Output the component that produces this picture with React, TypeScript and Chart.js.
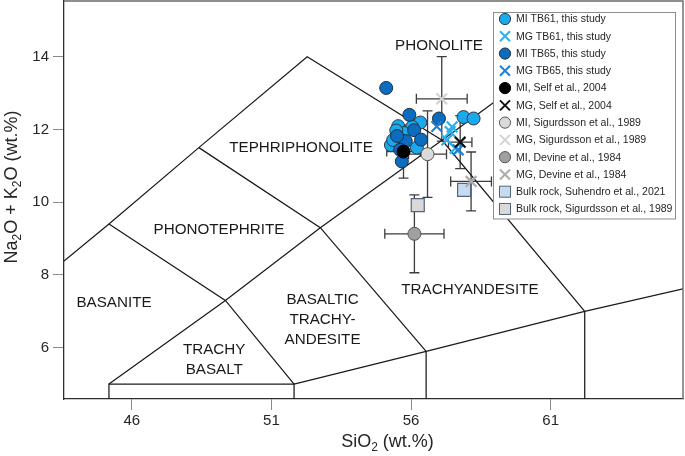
import React, { useEffect, useRef } from "react";
import { Chart, registerables } from "chart.js";

Chart.register(...registerables);

// ---------- axes ----------
const xTicks = [46, 51, 56, 61];
const yTicks = [6, 8, 10, 12, 14];
const xMin = 43.57;
const xMax = 65.74;
const yMin = 4.59;
const yMax = 15.53;

// ---------- TAS field boundaries (in axis units) ----------
const upperBoundary = [[43.57, 8.38], [45.18, 9.4], [48.4, 11.5], [52.28, 14.0], [57.11, 11.7], [62.22, 7.0]];
const tephriteBoundary = [[45.18, 9.4], [49.35, 7.3], [51.81, 5.0]];
const risingBoundary = [[45.18, 5.0], [49.35, 7.3], [52.75, 9.3], [57.11, 11.7], [60.32, 13.5]];
const fallingBoundary = [[48.4, 11.5], [52.75, 9.3], [56.54, 5.9]];
const basaltBox = [[45.18, 4.59], [45.18, 5.0], [51.81, 5.0], [51.81, 4.59]];
const lowerBoundary = [[51.81, 5.0], [56.54, 5.9], [62.22, 7.0], [65.74, 7.62]];
const andesiteEdge = [[56.54, 5.9], [56.54, 4.59]];
const daciteEdge = [[62.22, 7.0], [62.22, 4.59]];
const boundaries = [upperBoundary, tephriteBoundary, risingBoundary, fallingBoundary, basaltBox, lowerBoundary, andesiteEdge, daciteEdge];

// ---------- field names ----------
const fieldNames = ["PHONOLITE", "TEPHRIPHONOLITE", "PHONOTEPHRITE", "BASANITE", "TRACHY", "BASALT", "BASALTIC", "TRACHY-", "ANDESITE", "TRACHYANDESITE"];
const fieldX = [57.0, 52.06, 49.12, 45.36, 48.95, 48.95, 52.83, 52.83, 52.83, 58.11];
const fieldY = [14.29, 11.49, 9.25, 7.24, 5.94, 5.39, 7.31, 6.76, 6.23, 7.59];

// ---------- series ----------
const miTB61 = [[55.54, 12.09], [55.28, 11.57], [56.33, 12.19], [57.88, 12.34], [58.24, 12.3], [56.21, 11.5], [55.36, 11.71], [56.04, 12.07], [55.75, 11.9], [55.47, 11.97]];
const miTB65 = [[55.11, 13.14], [55.94, 12.4], [56.11, 11.98], [56.36, 11.72], [55.81, 11.68], [55.67, 11.12], [57.0, 12.3], [55.61, 11.44], [55.5, 11.82]];
const mgTB61 = [[57.4, 11.94], [57.28, 11.71], [57.58, 11.48], [57.47, 12.07]];
const mgTB65 = [[56.92, 12.08], [57.69, 11.44]];
const miSelf = [[55.73, 11.39]];
const miSelfErr = [[0.6, 0.73]];
const mgSelf = [[57.76, 11.65]];
const mgSelfErr = [[0.42, 0.73]];
const miSig = [[56.59, 11.32]];
const miSigErr = [[0.68, 1.19]];
const mgSig = [[57.1, 12.84]];
const mgSigErr = [[0.91, 1.16]];
const miDevine = [[56.12, 9.13]];
const miDevineErr = [[1.06, 1.07]];
const mgDevine = [[58.15, 10.57]];
const mgDevineErr = [[0.73, 0.81]];
const bulkSuhendro = [[57.9, 10.34]];
const bulkSig = [[56.24, 9.92]];

const FONT = "'Liberation Sans', Arial, Helvetica, sans-serif";
const TEXT = "#262626";

type Item = { label: string; shape: "circle" | "cross" | "square"; fill: string; stroke: string };
const legendItems: Item[] = [
  { label: "MI TB61, this study", shape: "circle", fill: "#1aa9ea", stroke: "#2b3a4a" },
  { label: "MG TB61, this study", shape: "cross", fill: "#2ab2ee", stroke: "#2ab2ee" },
  { label: "MI TB65, this study", shape: "circle", fill: "#0c6cc0", stroke: "#1f2f40" },
  { label: "MG TB65, this study", shape: "cross", fill: "#1f80d8", stroke: "#1f80d8" },
  { label: "MI, Self et al., 2004", shape: "circle", fill: "#000000", stroke: "#000000" },
  { label: "MG, Self et al., 2004", shape: "cross", fill: "#111111", stroke: "#111111" },
  { label: "MI, Sigurdsson et al., 1989", shape: "circle", fill: "#dadada", stroke: "#555555" },
  { label: "MG, Sigurdsson et al., 1989", shape: "cross", fill: "#d2d2d2", stroke: "#d2d2d2" },
  { label: "MI, Devine et al., 1984", shape: "circle", fill: "#a0a0a0", stroke: "#555555" },
  { label: "MG, Devine et al., 1984", shape: "cross", fill: "#ababab", stroke: "#ababab" },
  { label: "Bulk rock, Suhendro et al., 2021", shape: "square", fill: "#c6dbf0", stroke: "#54647a" },
  { label: "Bulk rock, Sigurdsson et al., 1989", shape: "square", fill: "#d9d9d9", stroke: "#54647a" },
];

const pts = (a: number[][]) => a.map(([x, y]) => ({ x, y }));

function drawMarker(ctx: CanvasRenderingContext2D, it: Item, cx: number, cy: number) {
  ctx.save();
  if (it.shape === "circle") {
    ctx.beginPath();
    ctx.arc(cx, cy, 5.6, 0, Math.PI * 2);
    ctx.fillStyle = it.fill;
    ctx.fill();
    ctx.lineWidth = 1;
    ctx.strokeStyle = it.stroke;
    ctx.stroke();
  } else if (it.shape === "cross") {
    ctx.beginPath();
    ctx.moveTo(cx - 5, cy - 5);
    ctx.lineTo(cx + 5, cy + 5);
    ctx.moveTo(cx + 5, cy - 5);
    ctx.lineTo(cx - 5, cy + 5);
    ctx.lineWidth = 2;
    ctx.strokeStyle = it.stroke;
    ctx.stroke();
  } else {
    ctx.fillStyle = it.fill;
    ctx.fillRect(cx - 5.5, cy - 5.5, 11, 11);
    ctx.lineWidth = 1;
    ctx.strokeStyle = it.stroke;
    ctx.strokeRect(cx - 5.5, cy - 5.5, 11, 11);
  }
  ctx.restore();
}

const errorBarPlugin = {
  id: "errorBars",
  beforeDatasetsDraw(chart: any) {
    const { ctx, scales } = chart;
    const xs = scales.x;
    const ys = scales.y;
    ctx.save();
    ctx.strokeStyle = "#3c3c3c";
    ctx.lineWidth = 1.3;
    chart.data.datasets.forEach((ds: any) => {
      if (!ds.errors) return;
      ds.data.forEach((p: any, i: number) => {
        const [ex, ey] = ds.errors[i];
        const px = xs.getPixelForValue(p.x);
        const py = ys.getPixelForValue(p.y);
        const x0 = xs.getPixelForValue(p.x - ex);
        const x1 = xs.getPixelForValue(p.x + ex);
        const y0 = ys.getPixelForValue(p.y + ey);
        const y1 = ys.getPixelForValue(p.y - ey);
        ctx.beginPath();
        ctx.moveTo(x0, py); ctx.lineTo(x1, py);
        ctx.moveTo(x0, py - 5); ctx.lineTo(x0, py + 5);
        ctx.moveTo(x1, py - 5); ctx.lineTo(x1, py + 5);
        ctx.moveTo(px, y0); ctx.lineTo(px, y1);
        ctx.moveTo(px - 5, y0); ctx.lineTo(px + 5, y0);
        ctx.moveTo(px - 5, y1); ctx.lineTo(px + 5, y1);
        ctx.stroke();
      });
    });
    ctx.restore();
  },
};

const decorPlugin = {
  id: "decor",
  beforeDatasetsDraw(chart: any) {
    const { ctx, scales } = chart;
    ctx.save();
    ctx.fillStyle = "#1a1a1a";
    ctx.font = `15.2px ${FONT}`;
    ctx.textAlign = "center";
    ctx.textBaseline = "middle";
    fieldNames.forEach((t, i) => {
      ctx.fillText(t, scales.x.getPixelForValue(fieldX[i]), scales.y.getPixelForValue(fieldY[i]));
    });
    ctx.restore();
  },
  afterDraw(chart: any) {
    const { ctx, chartArea: a } = chart;
    ctx.save();
    // frame top and right
    ctx.strokeStyle = "#6a6a6a";
    ctx.lineWidth = 1.4;
    ctx.beginPath();
    ctx.moveTo(a.left, a.top);
    ctx.lineTo(a.right, a.top);
    ctx.lineTo(a.right, a.bottom);
    ctx.stroke();

    // legend
    const lx = 493.5, ly = 12.5, lw = 182, lh = 206.5;
    ctx.fillStyle = "#ffffff";
    ctx.fillRect(lx, ly, lw, lh);
    ctx.strokeStyle = "#8c8c8c";
    ctx.lineWidth = 1;
    ctx.strokeRect(lx, ly, lw, lh);
    ctx.font = `10.5px ${FONT}`;
    ctx.textAlign = "left";
    ctx.textBaseline = "middle";
    legendItems.forEach((it, i) => {
      const cy = 19 + i * 17.27;
      drawMarker(ctx, it, 505, cy);
      ctx.fillStyle = TEXT;
      ctx.fillText(it.label, 516, cy + 0.5);
    });

    // x title: SiO2 (wt.%)
    const big = `18px ${FONT}`;
    const small = `12px ${FONT}`;
    const xParts: [string, boolean][] = [["SiO", false], ["2", true], [" (wt.%)", false]];
    const widthOf = (parts: [string, boolean][]) =>
      parts.reduce((s, [t, sub]) => { ctx.font = sub ? small : big; return s + ctx.measureText(t).width; }, 0);
    ctx.fillStyle = TEXT;
    ctx.textBaseline = "alphabetic";
    let w = widthOf(xParts);
    let x = 387.5 - w / 2;
    xParts.forEach(([t, sub]) => {
      ctx.font = sub ? small : big;
      ctx.fillText(t, x, sub ? 451 : 447);
      x += ctx.measureText(t).width;
    });

    // y title: Na2O + K2O (wt.%)
    const yParts: [string, boolean][] = [["Na", false], ["2", true], ["O + K", false], ["2", true], ["O (wt.%)", false]];
    w = widthOf(yParts);
    ctx.translate(17, 187);
    ctx.rotate(-Math.PI / 2);
    x = -w / 2;
    yParts.forEach(([t, sub]) => {
      ctx.font = sub ? small : big;
      ctx.fillText(t, x, sub ? 4 : 0);
      x += ctx.measureText(t).width;
    });
    ctx.restore();
  },
};

function scatterSet(label: string, data: number[][], style: any, order: number, errors?: number[][]) {
  return { label, data: pts(data), order, errors, showLine: false, ...style };
}

export default function App() {
  const ref = useRef<HTMLCanvasElement>(null);

  useEffect(() => {
    if (!ref.current) return;
    Chart.defaults.font.family = FONT;
    const circle = (fill: string, stroke: string) => ({
      pointStyle: "circle", pointRadius: 6.5, pointBackgroundColor: fill, pointBorderColor: stroke, pointBorderWidth: 1,
      backgroundColor: fill, borderColor: stroke,
    });
    const cross = (color: string) => ({
      pointStyle: "crossRot", pointRadius: 7.5, pointBorderColor: color, pointBorderWidth: 2.2, borderColor: color, backgroundColor: color,
    });
    const square = (fill: string, stroke: string) => ({
      pointStyle: "rect", pointRadius: 9.2, pointBackgroundColor: fill, pointBorderColor: stroke, pointBorderWidth: 1.2,
      backgroundColor: fill, borderColor: stroke,
    });

    const lineSets = boundaries.map((b, i) => ({
      label: "boundary" + i,
      data: pts(b),
      showLine: true,
      pointRadius: 0,
      borderColor: "#1a1a1a",
      borderWidth: 1.25,
      fill: false,
      order: 100,
    }));

    const datasets: any[] = [
      ...lineSets,
      scatterSet("Bulk rock, Suhendro et al., 2021", bulkSuhendro, square("#c6dbf0", "#54647a"), 50),
      scatterSet("Bulk rock, Sigurdsson et al., 1989", bulkSig, square("#d9d9d9", "#54647a"), 50),
      scatterSet("MI, Devine et al., 1984", miDevine, circle("#a0a0a0", "#555555"), 45, miDevineErr),
      scatterSet("MI TB61, this study", miTB61, circle("#1aa9ea", "#2b3a4a"), 40),
      scatterSet("MI TB65, this study", miTB65, circle("#0c6cc0", "#1f2f40"), 35),
      scatterSet("MI, Sigurdsson et al., 1989", miSig, circle("#dadada", "#555555"), 30, miSigErr),
      scatterSet("MI, Self et al., 2004", miSelf, circle("#000000", "#000000"), 25, miSelfErr),
      scatterSet("MG, Devine et al., 1984", mgDevine, cross("#ababab"), 20, mgDevineErr),
      scatterSet("MG, Sigurdsson et al., 1989", mgSig, cross("#d2d2d2"), 20, mgSigErr),
      scatterSet("MG TB61, this study", mgTB61, cross("#2ab2ee"), 15),
      scatterSet("MG TB65, this study", mgTB65, cross("#1f80d8"), 12),
      scatterSet("MG, Self et al., 2004", mgSelf, cross("#111111"), 10, mgSelfErr),
    ];

    const axisCommon = {
      type: "linear" as const,
      grid: { drawOnChartArea: false, drawTicks: true, tickLength: 11, tickColor: "#8a8a8a", tickWidth: 1 },
      border: { display: true, color: "#2e2e2e", width: 1.3 },
    };

    const chart = new Chart(ref.current, {
      type: "scatter",
      data: { datasets },
      options: {
        responsive: false,
        animation: false,
        devicePixelRatio: 1,
        events: [],
        layout: { autoPadding: false, padding: { top: 1, right: 2, left: 0, bottom: 0 } },
        plugins: { legend: { display: false }, tooltip: { enabled: false } },
        scales: {
          x: {
            ...axisCommon,
            min: xMin,
            max: xMax,
            afterBuildTicks: (s: any) => { s.ticks = xTicks.map((v) => ({ value: v })); },
            afterFit: (s: any) => { s.height = 57; s.paddingLeft = 0; s.paddingRight = 0; },
            ticks: { autoSkip: false, maxRotation: 0, padding: 2, color: TEXT, font: { size: 15, family: FONT }, callback: (v: any) => String(v) },
          },
          y: {
            ...axisCommon,
            min: yMin,
            max: yMax,
            afterBuildTicks: (s: any) => { s.ticks = yTicks.map((v) => ({ value: v })); },
            afterFit: (s: any) => { s.width = 64; s.paddingTop = 0; s.paddingBottom = 0; },
            ticks: { autoSkip: false, padding: 4, color: TEXT, font: { size: 15, family: FONT }, callback: (v: any) => String(v) },
          },
        },
      },
      plugins: [errorBarPlugin, decorPlugin],
    } as any);

    return () => chart.destroy();
  }, []);

  return (
    <div style={{ position: "absolute", left: 0, top: 0, width: 685, height: 456, background: "#ffffff" }}>
      <canvas ref={ref} width={685} height={456} style={{ display: "block", width: 685, height: 456 }} />
    </div>
  );
}
